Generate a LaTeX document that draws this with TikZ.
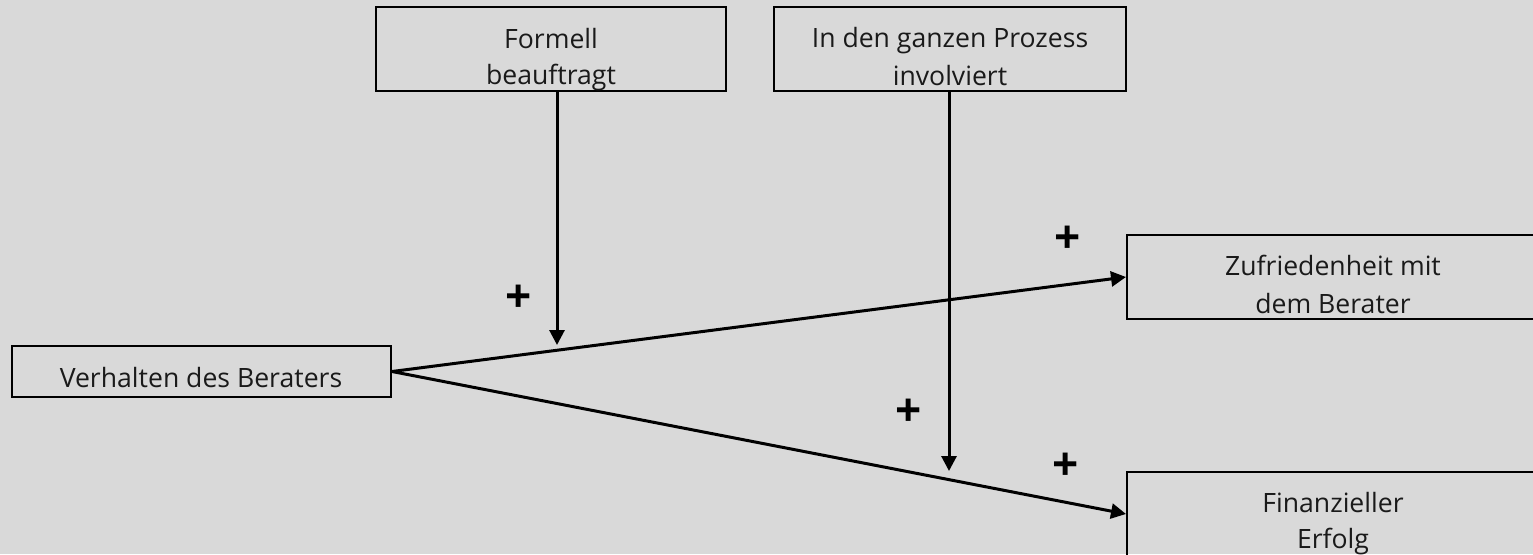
\documentclass[tikz,border=0pt]{standalone}
\usepackage{fontspec}
\setmainfont{Open Sans}
\usetikzlibrary{arrows.meta}
\definecolor{bg}{HTML}{D9D9D9}
\definecolor{ink}{HTML}{1A1A1A}
\begin{document}
\begin{tikzpicture}[x=1pt,y=-1pt,
  box/.style={draw=black,line width=2pt,inner sep=0pt},
  txt/.style={anchor=base,inner sep=0pt,text=ink,font=\fontsize{26.6}{32}\selectfont},
  plus/.style={inner sep=0pt,font=\fontsize{46}{50}\selectfont\bfseries},
  arr/.style={line width=3pt,-{Triangle[length=15pt,width=15pt]}}]
\fill[bg] (0,0) rectangle (1533,554);
\useasboundingbox (0,0) rectangle (1533,554);
% boxes
\node[box,minimum width=350pt,minimum height=84pt] (A) at (551,49) {};
\node[box,minimum width=352pt,minimum height=84pt] (B) at (950,49) {};
\node[box,minimum width=379pt,minimum height=51pt] (V) at (201.5,371.5) {};
\node[box,minimum width=412pt,minimum height=84pt] (Z) at (1333,277) {};
\node[box,minimum width=412pt,minimum height=84pt] (F) at (1333,514) {};
% texts
\node[txt] (a1) at (551,48) {Formell};
\node[txt] (a2) at (551,84) {beauftragt};
\node[txt] (b1) at (950,47) {In den ganzen Prozess};
\node[txt] (b2) at (950,85) {involviert};
\node[txt] (v1) at (201,387) {Verhalten des Beraters};
\node[txt] (z1) at (1333,275) {Zufriedenheit mit};
\node[txt] (z2) at (1333,313) {dem Berater};
\node[txt] (f1) at (1333,512) {Finanzieller};
\node[txt] (f2) at (1333,548) {Erfolg};
% plus signs
\node[plus] (p1) at (519,299) {+};
\node[plus] (p2) at (1068,240) {+};
\node[plus] (p3) at (909,413) {+};
\node[plus] (p4) at (1066,467) {+};
% connectors
\coordinate (ta) at (557,345);
\coordinate (tb) at (949,471);
\draw[arr] (V.east) -- (Z.west);
\draw[arr] (V.east) -- (F.west);
\draw[arr] (A.south -| ta) -- (ta);
\draw[arr] (B.south -| tb) -- (tb);
\end{tikzpicture}
\end{document}
